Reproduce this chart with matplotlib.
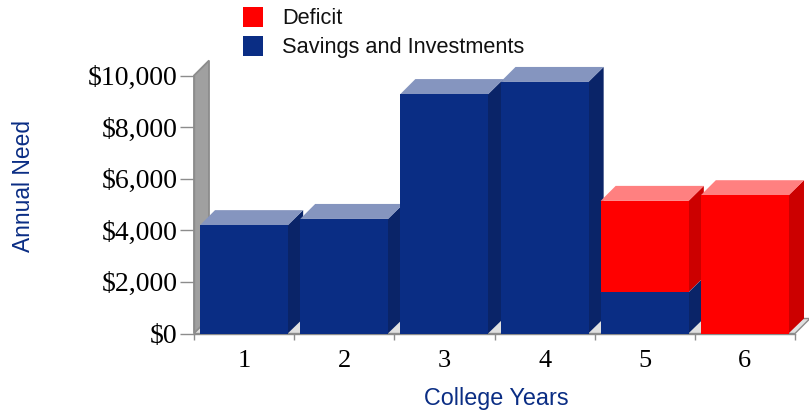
import matplotlib
matplotlib.use("Agg")
import matplotlib.pyplot as plt
from matplotlib.patches import Polygon, Rectangle

years = ["1", "2", "3", "4", "5", "6"]
savings = [4200, 4440, 9280, 9750, 1600, 0]
deficit = [0, 0, 0, 0, 3540, 5360]
y_ticks = [0, 2000, 4000, 6000, 8000, 10000]
y_labels = ["$0", "$2,000", "$4,000", "$6,000", "$8,000", "$10,000"]

W, H = 809, 417
NAVY, NAVY_SIDE, NAVY_TOP = "#0a2d84", "#0a2468", "#8595bf"
RED, RED_SIDE, RED_TOP = "#ff0000", "#cc0000", "#ff8080"
GRID = "#8c8c8c"
SANS = "Liberation Sans"
SERIF = "Liberation Serif"

fig = plt.figure(figsize=(W / 100, H / 100), dpi=100)
ax = fig.add_axes([194 / W, 1 - 333.5 / H, 601 / W, 258 / H])
ax.set_xlim(0, 6)
ax.set_ylim(0, 10000)

# Oblique depth of the 3D effect, in data units
dx = 15 / (601 / 6)
dy = 15 / (258 / 10000)
bar_w = 0.88
bar_off = 0.06


def poly(points, color, z, edge="none", lw=0):
    ax.add_patch(Polygon(points, closed=True, facecolor=color, edgecolor=edge,
                         linewidth=lw, zorder=z, clip_on=False))


def box(x, low, high, front, side, top, z):
    x0, x1 = x + bar_off, x + bar_off + bar_w
    poly([(x1 - 0.005, low), (x1 + dx, low + dy), (x1 + dx, high + dy), (x1 - 0.005, high)], side, z)
    poly([(x0, high), (x0 + dx, high + dy), (x1 + dx, high + dy), (x1, high)], top, z)
    ax.add_patch(Rectangle((x0, low), bar_w, high - low, facecolor=front,
                           edgecolor="none", zorder=z + 0.1, clip_on=False))


# Wall and floor behind the bars
poly([(0, 0), (dx, dy), (dx, 10000 + dy), (0, 10000)], "#a0a0a0", 1, GRID, 1.3)
poly([(0, 0), (dx, dy), (6 + dx, dy), (6, 0)], "#e0e0e0", 1, GRID, 1.0)

for i in range(len(years)):
    z = 2 + i
    if savings[i] > 0:
        box(i, 0, savings[i], NAVY, NAVY_SIDE, NAVY_TOP, z)
    if deficit[i] > 0:
        box(i, savings[i], savings[i] + deficit[i], RED, RED_SIDE, RED_TOP, z + 0.3)

for side in ("top", "right"):
    ax.spines[side].set_visible(False)
for side in ("left", "bottom"):
    ax.spines[side].set_color(GRID)
    ax.spines[side].set_linewidth(1.0)
    ax.spines[side].set_zorder(1.5)

ax.set_xticks(range(7))
ax.set_xticklabels([])
ax.set_xticks([i + 0.5 for i in range(6)], minor=True)
ax.set_xticklabels(years, minor=True, fontfamily=SERIF, fontsize=19)
ax.tick_params(axis="x", which="major", length=4.5, width=1, color=GRID)
ax.tick_params(axis="x", which="minor", length=0, pad=12)
ax.set_yticks(y_ticks)
ax.set_yticklabels(y_labels, fontfamily=SERIF, fontsize=20)
ax.tick_params(axis="y", length=10, width=1, color=GRID, pad=2)

fig.text(496 / W, 1 - 398.5 / H, "College Years", color=NAVY, ha="center", va="center",
         fontfamily=SANS, fontsize=16.8)
fig.text(23.5 / W, 1 - 186 / H, "Annual Need", color=NAVY, ha="center", va="center",
         rotation=90, fontfamily=SANS, fontsize=16.4)

# Legend entries placed by hand above the plot
for y_px, color, label in [(17, RED, "Deficit"), (46, NAVY, "Savings and Investments")]:
    fig.add_artist(Rectangle((243 / W, 1 - (y_px + 10) / H), 20 / W, 20 / H,
                             facecolor=color, edgecolor="none", transform=fig.transFigure))
    fig.text(282 / W, 1 - (y_px + 1) / H, label, color="#111111", ha="left", va="center",
             fontfamily=SANS, fontsize=15.7)

fig.savefig("out.png", dpi=100)
